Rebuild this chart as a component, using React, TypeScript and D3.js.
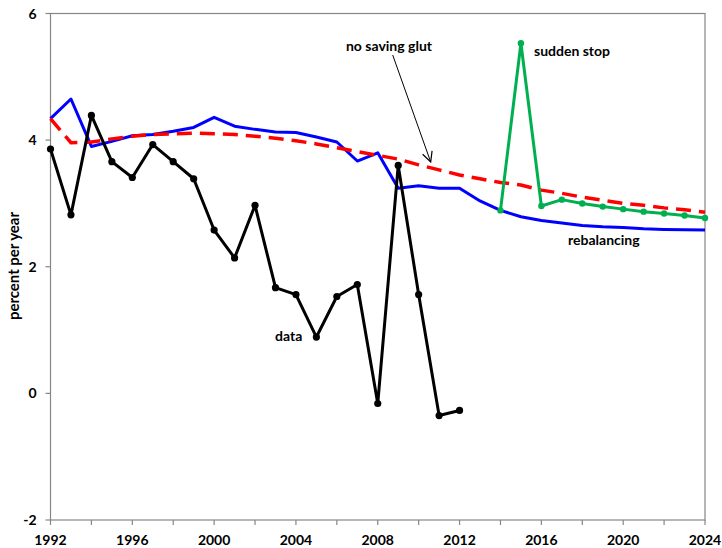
import React from "react";
import * as d3 from "d3";

const dataYears = d3.range(1992, 2013);
const dataValues = [3.86, 2.82, 4.39, 3.66, 3.41, 3.93, 3.66, 3.39, 2.58, 2.14, 2.97, 1.67, 1.56, 0.89, 1.53, 1.72, -0.16, 3.6, 1.56, -0.35, -0.27];

const modelYears = d3.range(1992, 2025);
const rebalancing = [4.34, 4.65, 3.9, 3.98, 4.07, 4.09, 4.14, 4.2, 4.36, 4.22, 4.17, 4.13, 4.12, 4.05, 3.97, 3.67, 3.8, 3.24, 3.28, 3.24, 3.24, 3.04, 2.89, 2.79, 2.73, 2.69, 2.65, 2.63, 2.62, 2.6, 2.59, 2.585, 2.58];
const noSavingGlut = [4.34, 3.96, 3.97, 4.02, 4.06, 4.09, 4.1, 4.11, 4.1, 4.09, 4.06, 4.03, 3.99, 3.94, 3.88, 3.82, 3.76, 3.7, 3.61, 3.53, 3.45, 3.39, 3.33, 3.29, 3.21, 3.16, 3.1, 3.05, 3.0, 2.97, 2.93, 2.9, 2.86];

const stopYears = d3.range(2014, 2025);
const suddenStop = [2.89, 5.53, 2.96, 3.06, 3.0, 2.95, 2.91, 2.87, 2.84, 2.81, 2.77];

const xTickValues = d3.range(1992, 2025, 4);
const xMinorTicks = d3.range(1992, 2025, 2);
const yTickValues = [-2, 0, 2, 4, 6];

const FONT = "Lato, 'Liberation Sans', sans-serif";

export default function App() {
  const left = 50.5, right = 705, top = 13.5, bottom = 520;
  const x = d3.scaleLinear().domain([1992, 2024]).range([left, right]);
  const y = d3.scaleLinear().domain([-2, 6]).range([bottom, top]);
  const line = d3.line<[number, number]>().x((d) => x(d[0])).y((d) => y(d[1]));

  const dataPts: [number, number][] = dataYears.map((yr, i) => [yr, dataValues[i]]);
  const rebPts: [number, number][] = modelYears.map((yr, i) => [yr, rebalancing[i]]);
  const nsgPts: [number, number][] = modelYears.map((yr, i) => [yr, noSavingGlut[i]]);
  const ssPts: [number, number][] = stopYears.map((yr, i) => [yr, suddenStop[i]]);

  const axisColor = "#868686";

  return (
    <svg width={722} height={548} style={{ position: "absolute", left: 0, top: 0, background: "#fff" }} fontFamily={FONT}>
      <defs>
        <marker id="arr" viewBox="0 0 12 12" refX="11" refY="6" markerWidth="12" markerHeight="12" markerUnits="userSpaceOnUse" orient="auto">
          <path d="M1,1 L11,6 L1,11" fill="none" stroke="#000" strokeWidth={1.2} />
        </marker>
      </defs>
      <rect x={left} y={top} width={right - left} height={bottom - top} fill="none" stroke={axisColor} strokeWidth={1.2} />
      {xMinorTicks.map((t) => (
        <line key={"xt" + t} x1={x(t)} x2={x(t)} y1={bottom} y2={bottom + 5} stroke={axisColor} strokeWidth={1.2} />
      ))}
      {xTickValues.map((t) => (
        <text key={"xl" + t} x={x(t)} y={545} textAnchor="middle" fontSize={14} fontWeight="bold" fill="#000">{t}</text>
      ))}
      {yTickValues.map((t) => (
        <g key={"yt" + t}>
          <line x1={left - 5} x2={left} y1={y(t)} y2={y(t)} stroke={axisColor} strokeWidth={1.2} />
          <text x={left - 14} y={y(t) + 5} textAnchor="end" fontSize={14} fontWeight="bold" fill="#000">{t}</text>
        </g>
      ))}
      <text transform={`translate(19,266) rotate(-90)`} textAnchor="middle" fontSize={15} fontWeight="bold" fill="#000" textLength={108} lengthAdjust="spacing">percent per year</text>

      <path d={line(rebPts) || ""} fill="none" stroke="#0000FF" strokeWidth={3} strokeLinejoin="round" />
      <path d={line(nsgPts) || ""} fill="none" stroke="#FF0000" strokeWidth={3.5} strokeDasharray="15,8" />
      <path d={line(ssPts) || ""} fill="none" stroke="#00B050" strokeWidth={3} strokeLinejoin="round" />
      {ssPts.map((p, i) => (
        <circle key={"ss" + i} cx={x(p[0])} cy={y(p[1])} r={3.2} fill="#00B050" />
      ))}
      <path d={line(dataPts) || ""} fill="none" stroke="#000" strokeWidth={3} strokeLinejoin="round" />
      {dataPts.map((p, i) => (
        <circle key={"d" + i} cx={x(p[0])} cy={y(p[1])} r={3.6} fill="#000" />
      ))}

      <text x={389} y={51} textAnchor="middle" fontSize={14} fontWeight="bold" fill="#000">no saving glut</text>
      <line x1={392.7} y1={55} x2={430.7} y2={162} stroke="#000" strokeWidth={1} markerEnd="url(#arr)" />
      <text x={534} y={56} fontSize={14} fontWeight="bold" fill="#000">sudden stop</text>
      <text x={568} y={245} fontSize={14} fontWeight="bold" fill="#000">rebalancing</text>
      <text x={275} y={341} fontSize={14} fontWeight="bold" fill="#000">data</text>
    </svg>
  );
}
